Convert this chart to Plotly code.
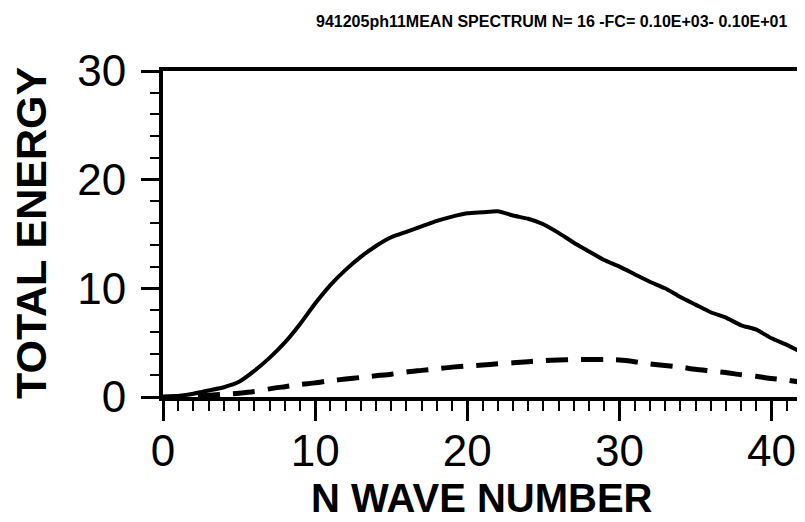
import plotly.graph_objects as go

wave_number = list(range(0, 43))
total_energy = [0.0, 0.1, 0.3, 0.6, 0.9, 1.4, 2.4, 3.6, 5.0, 6.7,
                8.6, 10.3, 11.7, 12.9, 13.9, 14.7, 15.2, 15.7, 16.2, 16.6,
                16.9, 17.0, 17.1, 16.7, 16.4, 15.9, 15.1, 14.2, 13.4, 12.6,
                12.0, 11.3, 10.6, 10.0, 9.2, 8.5, 7.8, 7.3, 6.6, 6.2,
                5.4, 4.8, 4.1]
dashed_energy = [0.0, 0.05, 0.1, 0.15, 0.25, 0.35, 0.5, 0.75, 0.95, 1.15,
                 1.3, 1.5, 1.65, 1.8, 1.95, 2.1, 2.3, 2.45, 2.6, 2.75,
                 2.85, 2.95, 3.05, 3.15, 3.25, 3.35, 3.4, 3.45, 3.45, 3.45,
                 3.4, 3.25, 3.05, 2.9, 2.75, 2.55, 2.4, 2.25, 2.05, 1.9,
                 1.7, 1.55, 1.35]
x_ticks = [0, 10, 20, 30, 40]
y_ticks = [0, 10, 20, 30]

title_text = "941205ph11MEAN SPECTRUM N= 16 -FC= 0.10E+03- 0.10E+01"

# page has an 8px body margin; figure placed at (8, 8)
OFF = 8
W, H = 805 - OFF, 522 - OFF
ML, MR, MT, MB = 163 - OFF, 3, 71 - OFF, 125

fig = go.Figure()
fig.add_trace(go.Scatter(x=wave_number, y=total_energy, mode="lines",
                         line=dict(color="black", width=4, shape="spline", smoothing=0.6),
                         showlegend=False))
fig.add_trace(go.Scatter(x=wave_number, y=dashed_energy, mode="lines",
                         line=dict(color="black", width=5, dash="22px,13px", shape="spline", smoothing=0.6),
                         showlegend=False))

fig.update_layout(
    width=W, height=H,
    margin=dict(l=ML, r=MR, t=MT, b=MB, autoexpand=False),
    paper_bgcolor="white", plot_bgcolor="white",
    font=dict(family="Liberation Sans, Arial, sans-serif", color="black"),
    xaxis=dict(range=[0, 42], tickvals=x_ticks, ticks="outside", ticklen=20, tickwidth=3,
               tickcolor="black", showline=True, linewidth=4, linecolor="black", mirror=True,
               showgrid=False, zeroline=False, tickfont=dict(size=44), automargin=False,
               ticklabelstandoff=-8,
               minor=dict(dtick=1, ticks="outside", ticklen=10, tickwidth=2, tickcolor="black", showgrid=False)),
    yaxis=dict(range=[0, 30], tickvals=y_ticks, ticks="outside", ticklen=18, tickwidth=3,
               tickcolor="black", showline=True, linewidth=4, linecolor="black", mirror=True,
               showgrid=False, zeroline=False, tickfont=dict(size=44), automargin=False,
               ticklabelstandoff=6,
               minor=dict(dtick=2, ticks="outside", ticklen=9, tickwidth=2, tickcolor="black", showgrid=False)),
)

def px(xp):
    return (xp - OFF - ML) / (W - ML - MR)

def py(yp):
    return (H - MB - (yp - OFF)) / (H - MT - MB)

fig.add_annotation(text="<b>" + title_text + "</b>", x=px(551), y=py(22), xref="paper", yref="paper",
                   showarrow=False, font=dict(size=16), xanchor="center", yanchor="middle")
fig.add_annotation(text="<b>N WAVE NUMBER</b>", x=px(482), y=py(498), xref="paper", yref="paper",
                   showarrow=False, font=dict(size=40), xanchor="center", yanchor="middle")
fig.add_annotation(text="<b>TOTAL ENERGY</b>", x=px(31), y=py(233), xref="paper", yref="paper",
                   showarrow=False, font=dict(size=43), textangle=-90, xanchor="center", yanchor="middle")

fig.write_html("out.html")
